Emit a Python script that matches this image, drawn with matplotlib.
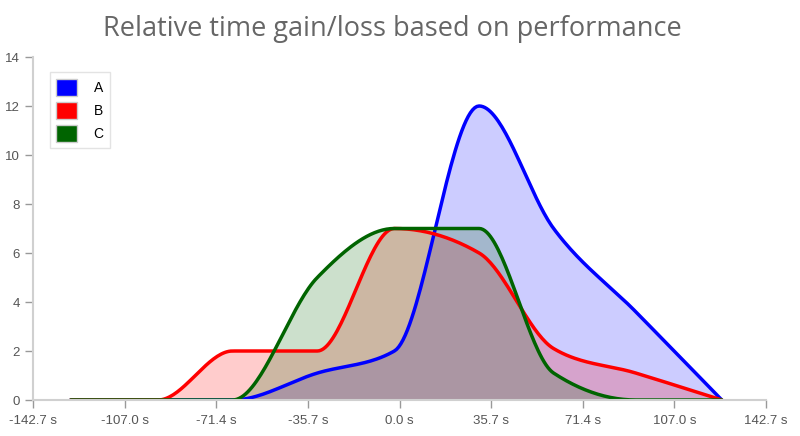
import numpy as np
import matplotlib
matplotlib.use('Agg')
import matplotlib.pyplot as plt
from matplotlib.patches import Patch

# knot positions (seconds) and density values per performance group
x_knots = [-128, -94, -65, -32, -2, 31, 60, 92, 125.5]
series_a = [0, 0, 0, 1.1, 2, 12, 7, 3.6, 0]
series_b = [0, 0, 2, 2, 7, 6, 2.1, 1.1, 0]
series_c = [0, 0, 0, 5, 7, 7, 1.1, 0, 0]
names = ['A', 'B', 'C']
colors = ['#0000ff', '#ff0000', '#006400']

x_ticks = [-142.7, -107.0, -71.4, -35.7, 0.0, 35.7, 71.4, 107.0, 142.7]
y_ticks = [0, 2, 4, 6, 8, 10, 12, 14]


def monotone_curve(xs, ys, n=40):
    # same idea as d3.curveMonotoneX (Steffen slopes + Hermite segments)
    xs = np.asarray(xs, float)
    ys = np.asarray(ys, float)
    h = np.diff(xs)
    s = np.diff(ys) / h
    m = np.zeros(len(xs))
    for i in range(1, len(xs) - 1):
        p = (s[i - 1] * h[i] + s[i] * h[i - 1]) / (h[i - 1] + h[i])
        m[i] = (np.sign(s[i - 1]) + np.sign(s[i])) * min(abs(s[i - 1]), abs(s[i]), 0.5 * abs(p))
    m[0] = (3 * s[0] - m[1]) / 2
    m[-1] = (3 * s[-1] - m[-2]) / 2
    px, py = [], []
    for i in range(len(xs) - 1):
        t = np.linspace(0, 1, n)
        h00 = 2 * t**3 - 3 * t**2 + 1
        h10 = t**3 - 2 * t**2 + t
        h01 = -2 * t**3 + 3 * t**2
        h11 = t**3 - t**2
        px.extend(xs[i] + t * h[i])
        py.extend(h00 * ys[i] + h10 * h[i] * m[i] + h01 * ys[i + 1] + h11 * h[i] * m[i + 1])
    return np.array(px), np.clip(np.array(py), 0, None)


fig = plt.figure(figsize=(8, 4.36), dpi=100)
ax = fig.add_axes([33 / 800, 36 / 436, 733 / 800, 343 / 436])

for ys, col in zip([series_a, series_b, series_c], colors):
    cx, cy = monotone_curve(x_knots, ys)
    ax.fill_between(cx, 0, cy, color=col, alpha=0.2, linewidth=0)
    ax.plot(cx, cy, color=col, linewidth=2.5, solid_capstyle='round')

ax.set_xlim(-142.7, 142.7)
ax.set_ylim(0, 14)
ax.set_xticks(x_ticks)
ax.set_xticklabels([f'{v:.1f} s' for v in x_ticks])
ax.set_yticks(y_ticks)

for side in ['top', 'right']:
    ax.spines[side].set_visible(False)
for side in ['left', 'bottom']:
    ax.spines[side].set_color('#d0d0d0')
    ax.spines[side].set_linewidth(1.5)
ax.tick_params(colors='#999999', labelcolor='#555555', labelsize=9.5, length=6, width=1)
for lbl in ax.get_xticklabels() + ax.get_yticklabels():
    lbl.set_fontfamily('Liberation Sans')
ax.tick_params(axis='x', pad=5)

fig.suptitle('Relative time gain/loss based on performance', x=0.49, y=0.965,
             fontsize=19.5, color='#666666', fontfamily='Open Sans')

handles = [Patch(facecolor=c, edgecolor='#cccccc', linewidth=1) for c in colors]
leg = ax.legend(handles, names, loc='upper left', bbox_to_anchor=(0.023, 0.955),
                prop={'family': 'Liberation Sans', 'size': 10},
                frameon=True, fancybox=False, handlelength=1.5, handleheight=1.5,
                handletextpad=1.2, borderpad=0.45, labelspacing=0.45, borderaxespad=0)
leg.get_frame().set_edgecolor('#dddddd')
leg.get_frame().set_linewidth(1)

fig.savefig('out.png', dpi=100)
